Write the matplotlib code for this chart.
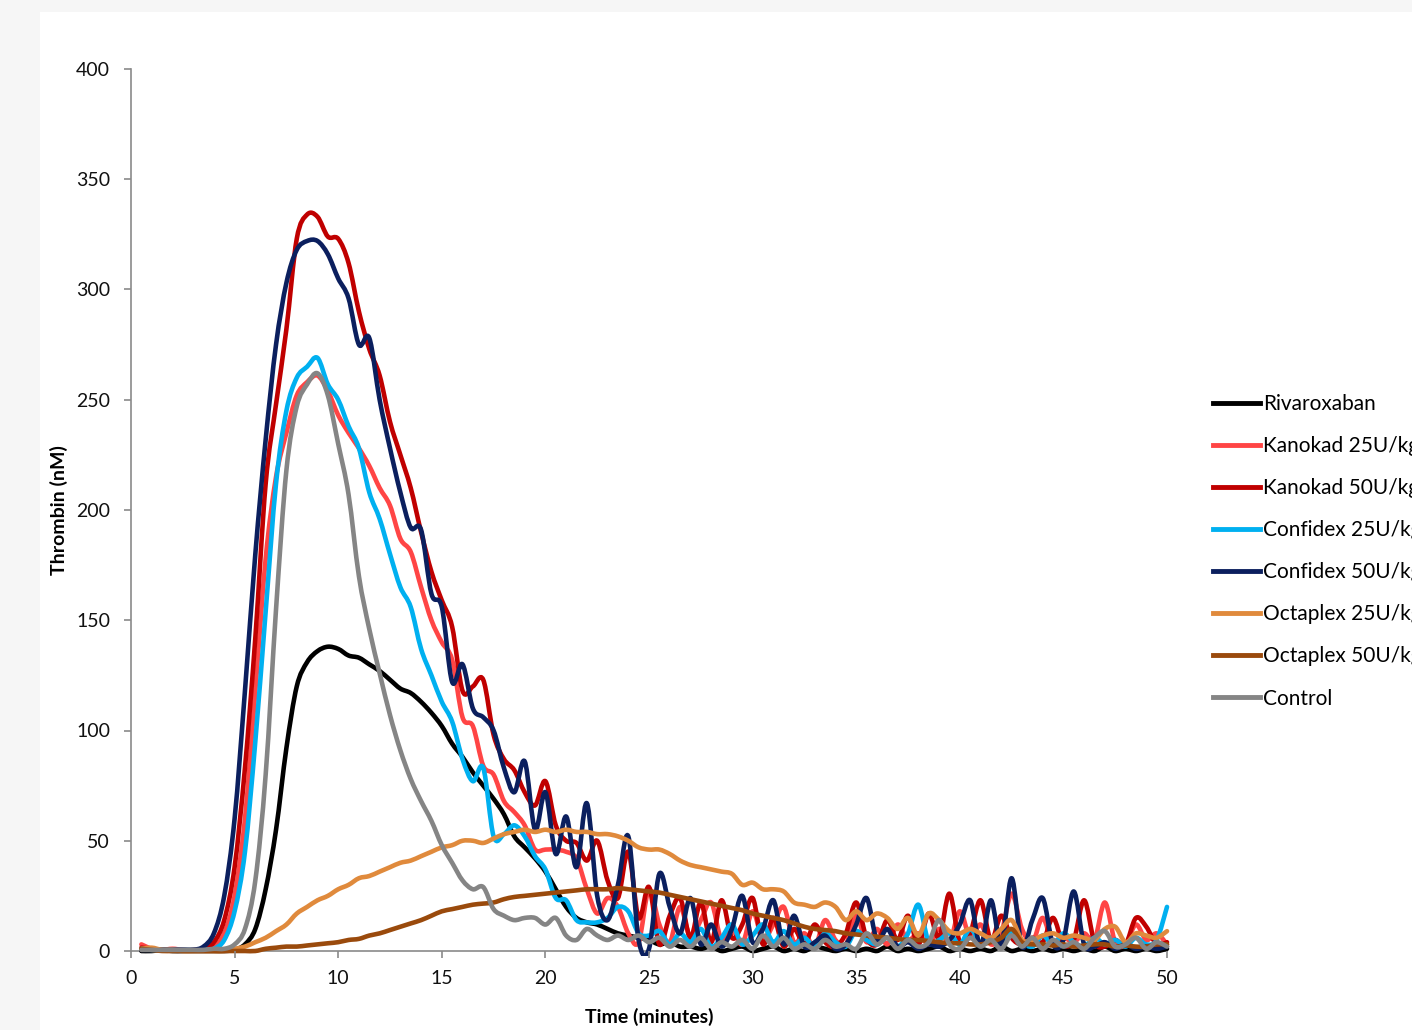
import numpy as np
import matplotlib
matplotlib.use("Agg")
import matplotlib.pyplot as plt
from matplotlib.patches import Rectangle, PathPatch
from matplotlib.path import Path

# time grid (minutes), one reading every 0.5 min
time_min = np.arange(1, 101) * 0.5

rivaroxaban = [
    0, 0, 0.5, 0, 0, 0, 0, 0, 0, 0.5,
    3, 10, 28, 55, 92, 120, 131, 136, 138, 137,
    134, 133, 130, 127, 123, 119, 117, 113, 108, 102,
    94, 88, 81, 75, 69, 62, 52, 47, 42, 36,
    28, 20, 15, 13, 12, 10, 8, 7, 6, 5,
    3, 4, 2, 2, 1, 2, 0, 1, 2, 0,
    1, 2, 0, 1, 0, 2, 1, 0, 1, 0,
    1, 0, 2, 0, 1, 0, 1, 2, 0, 1,
    0, 1, 0, 2, 0, 1, 0, 1, 0, 1,
    0, 1, 0, 2, 0, 1, 0, 1, 0, 1,
]
kanokad_25 = [
    3, 1, 0.5, 1, 0.5, 0.5, 1, 2, 8, 25,
    60, 118, 178, 215, 235, 252, 258, 261, 254, 243,
    235, 228, 220, 210, 202, 187, 181, 165, 150, 140,
    132, 106, 102, 84, 80, 68, 63, 57, 46, 46,
    46, 45, 42, 28, 17, 24, 20, 8, 4, 28,
    12, 4, 20, 6, 14, 22, 5, 10, 3, 18,
    5, 12, 20, 4, 8, 2, 14, 5, 3, 16,
    4, 10, 3, 12, 5, 8, 3, 10, 4, 18,
    6, 12, 3, 8, 26, 10, 4, 15, 3, 6,
    4, 8, 5, 22, 4, 3, 12, 5, 8, 3,
]
kanokad_50 = [
    1.5, 1, 0.5, 0.5, 0.5, 0.5, 1, 4, 14, 38,
    83, 142, 212, 248, 282, 323, 334, 333, 324, 323,
    312, 290, 273, 261, 240, 225, 210, 190, 172, 159,
    147, 118, 120, 123, 98, 87, 82, 72, 66, 77,
    57, 50, 49, 41, 50, 32, 24, 45, 15, 29,
    3, 16, 24, 6, 22, 4, 23, 6, 12, 24,
    3, 15, 2, 10, 3, 12, 4, 2, 8, 22,
    6, 3, 14, 5, 16, 3, 17, 6, 26, 4,
    8, 23, 5, 16, 6, 3, 6, 4, 15, 3,
    5, 23, 4, 2, 5, 3, 15, 11, 3, 4,
]
confidex_25 = [
    1, 0.5, 0.5, 0.5, 0.5, 0.5, 0.5, 1, 5, 18,
    45, 95, 154, 212, 245, 260, 265, 269, 257, 250,
    238, 228, 208, 196, 180, 165, 156, 137, 125, 113,
    104, 87, 77, 83, 52, 53, 57, 52, 43, 37,
    24, 23, 14, 13, 13, 15, 20, 18, 8, 7,
    9, 3, 8, 4, 10, 2, 6, 12, 3, 7,
    12, 4, 9, 3, 6, 2, 8, 4, 2, 9,
    5, 3, 6, 2, 8, 21, 4, 5, 8, 3,
    10, 4, 6, 3, 9, 4, 2, 7, 3, 8,
    4, 2, 6, 3, 5, 2, 6, 3, 5, 20,
]
confidex_50 = [
    0.5, 0.5, 0.5, 0.5, 0.5, 0.5, 2, 8, 25, 60,
    118, 180, 232, 275, 303, 318, 322, 322, 316, 305,
    296, 275, 278, 250, 228, 208, 192, 191, 162, 156,
    122, 130, 110, 106, 100, 83, 72, 86, 55, 72,
    44, 61, 38, 67, 25, 14, 30, 52, 5, 1,
    35, 20, 8, 24, 3, 12, 2, 10, 25, 4,
    10, 23, 3, 16, 2, 4, 7, 1, 3, 12,
    24, 5, 10, 2, 4, 1, 3, 2, 5, 12,
    23, 2, 23, 3, 33, 2, 14, 24, 3, 5,
    27, 3, 2, 4, 1, 3, 1, 2, 1, 2,
]
octaplex_25 = [
    1, 1.5, 0.5, 0.5, 0, 0, 0, 0, 0, 1,
    2, 4, 6, 9, 12, 17, 20, 23, 25, 28,
    30, 33, 34, 36, 38, 40, 41, 43, 45, 47,
    48, 50, 50, 49, 51, 53, 54, 55, 54, 55,
    54, 55, 54, 54, 53, 53, 52, 50, 47, 46,
    46, 44, 41, 39, 38, 37, 36, 35, 30, 31,
    28, 28, 27, 22, 21, 20, 22, 20, 14, 18,
    14, 17, 15, 10, 15, 7, 17, 14, 9, 8,
    10, 8, 6, 10, 14, 5, 5, 7, 8, 6,
    7, 6, 5, 10, 11, 4, 8, 7, 6, 9,
]
octaplex_50 = [
    1, 0.5, 0, 0, 0, 0, 0, 0, 0, 0,
    0, 0, 1, 1.5, 2, 2, 2.5, 3, 3.5, 4,
    5, 5.5, 7, 8, 9.5, 11, 12.5, 14, 16, 18,
    19, 20, 21, 21.5, 22, 23.5, 24.5, 25, 25.5, 26,
    26.5, 27, 27.5, 28, 28, 28, 28.5, 28, 27.5, 27,
    26.5, 25.5, 24.5, 23.5, 22.5, 21.5, 20.5, 19.5, 18.5, 17,
    16, 15, 14, 12.5, 11, 10, 9.5, 9, 8, 7.5,
    7, 6.5, 6, 5.5, 5, 5, 4.5, 4, 3.5, 3.5,
    3, 3, 4, 6, 10, 4, 3, 3, 2.5, 3,
    2, 2.5, 3, 3, 2, 2.5, 2, 2, 3, 3,
]
control = [
    0.5, 0.5, 0.5, 0.5, 0.5, 0.5, 0.5, 1, 1, 3,
    10, 32, 80, 155, 218, 247, 257, 262, 252, 230,
    207, 170, 146, 126, 107, 91, 78, 68, 59, 48,
    40, 32, 28, 29, 19, 16, 14, 15, 15, 12,
    15, 7, 5, 10, 7, 5, 7, 5, 7, 4,
    6, 2, 5, 2, 6, 1, 4, 2, 5, 1,
    7, 2, 6, 1, 3, 1, 5, 2, 3, 1,
    8, 3, 6, 1, 5, 2, 4, 14, 3, 1,
    6, 2, 5, 1, 7, 2, 6, 1, 5, 2,
    4, 1, 6, 9, 2, 3, 6, 1, 4, 2,
]

labels = ["Rivaroxaban", "Kanokad 25U/kg", "Kanokad 50U/kg", "Confidex 25U/kg",
          "Confidex 50U/kg", "Octaplex 25U/kg", "Octaplex 50U/kg", "Control"]
series = [rivaroxaban, kanokad_25, kanokad_50, confidex_25,
          confidex_50, octaplex_25, octaplex_50, control]
colors = ["#000000", "#FF4545", "#C00000", "#00B0F0",
          "#0B1F5E", "#E08A3C", "#9A4A0C", "#858585"]

x_ticks = list(range(0, 55, 5))
y_ticks = list(range(0, 450, 50))


def smooth_line(x, y):
    # Excel-style "smoothed line": bezier segments through every data point
    pts = np.column_stack([x, y]).astype(float)
    n = len(pts)
    verts = [pts[0]]
    codes = [Path.MOVETO]
    for i in range(n - 1):
        p0 = pts[max(i - 1, 0)]
        p1 = pts[i]
        p2 = pts[i + 1]
        p3 = pts[min(i + 2, n - 1)]
        verts += [p1 + (p2 - p0) / 6, p2 - (p3 - p1) / 6, p2]
        codes += [Path.CURVE4] * 3
    return Path(verts, codes)


plt.rcParams["font.family"] = ["Lato", "DejaVu Sans"]

fig = plt.figure(figsize=(14.12, 10.30), dpi=100)
fig.patch.set_facecolor("#f6f6f6")
# white page area of the screenshot
fig.patches.append(Rectangle((40 / 1412, 0), 1, 1 - 12 / 1030,
                             transform=fig.transFigure, facecolor="white",
                             edgecolor="none", zorder=-10))

ax = fig.add_axes([131 / 1412, 1 - 951 / 1030, 1036 / 1412, 882 / 1030])
ax.set_facecolor("none")

clip = Rectangle((0, -0.006), 1.01, 1.1, transform=ax.transAxes,
                 facecolor="none", edgecolor="none")
handles = []
for vals, lab, col in zip(series, labels, colors):
    patch = PathPatch(smooth_line(time_min, vals), facecolor="none",
                      edgecolor=col, lw=3.3, joinstyle="round", capstyle="round")
    ax.add_patch(patch)
    patch.set_clip_path(clip)
    h, = ax.plot([], [], color=col, lw=3.5, label=lab)
    handles.append(h)

ax.set_xlim(0, 50)
ax.set_ylim(0, 400)
ax.set_xticks(x_ticks)
ax.set_yticks(y_ticks)
for s in ["top", "right"]:
    ax.spines[s].set_visible(False)
for s in ["left", "bottom"]:
    ax.spines[s].set_color("#8a8a8a")
    ax.spines[s].set_linewidth(1.2)
    ax.spines[s].set_zorder(0.5)
ax.tick_params(axis="both", direction="out", length=5, width=1.2,
               color="#8a8a8a", labelsize=14, labelcolor="#111111")
ax.tick_params(axis="y", pad=10)
ax.tick_params(axis="x", pad=9)

ax.set_xlabel("Time (minutes)", fontsize=14, fontweight="bold")
ax.set_ylabel("Thrombin (nM)", fontsize=14, fontweight="bold")
ax.xaxis.set_label_coords(0.5, -0.0645)
ax.yaxis.set_label_coords(-0.061, 0.5)

leg = ax.legend(handles=handles, loc="upper left",
                bbox_to_anchor=(1213 / 1412, 1 - 394 / 1030),
                bbox_transform=fig.transFigure, frameon=False, fontsize=15,
                handlelength=2.25, handletextpad=0.15, labelspacing=1.06,
                borderpad=0, borderaxespad=0)

fig.savefig("out.png", dpi=100, facecolor=fig.get_facecolor())
